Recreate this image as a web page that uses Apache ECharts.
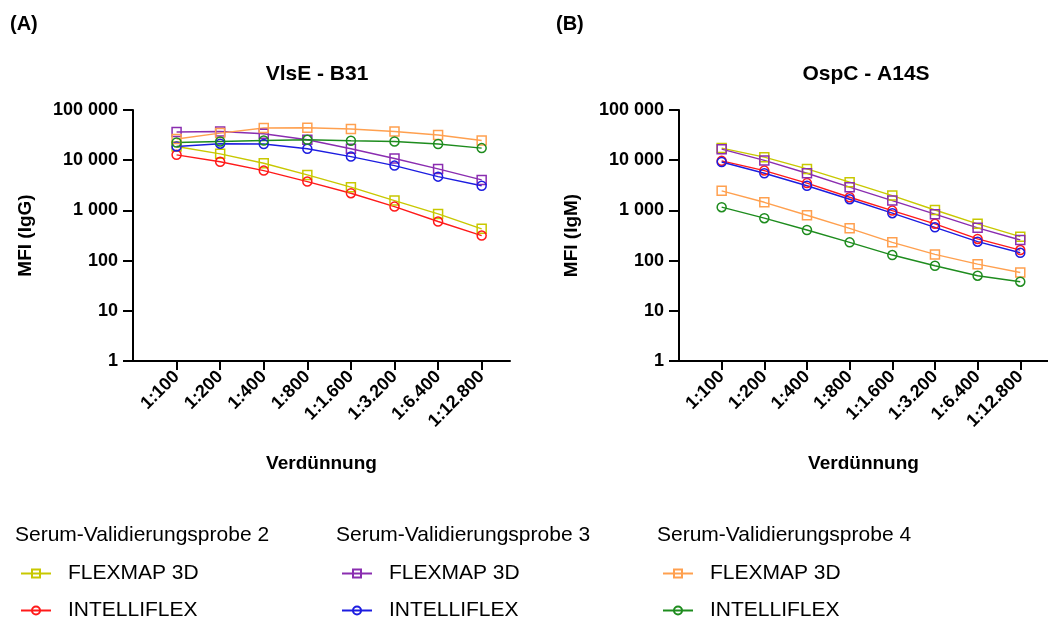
<!DOCTYPE html>
<html>
<head>
<meta charset="utf-8">
<script src="https://cdn.jsdelivr.net/npm/echarts@6/dist/echarts.min.js"></script>
<style>
  html, body { margin: 0; padding: 0; background: #fff; }
  #chart { width: 1048px; height: 620px; }
</style>
</head>
<body>
<div id="chart"></div>
<script>
// Verdünnungsstufen (x-Achse)
const dilutions = ['1:100', '1:200', '1:400', '1:800', '1:1.600', '1:3.200', '1:6.400', '1:12.800']
const yTicks = [1, 10, 100, 1000, 10000, 100000]

// (A) VlsE - B31, MFI (IgG)
const vlseFlex2 = [18800, 13400, 8700, 5100, 2900, 1570, 850, 430]
const vlseIntel2 = [12800, 9300, 6200, 3750, 2200, 1190, 600, 315]
const vlseFlex3 = [36400, 37400, 33600, 25500, 16900, 10800, 6700, 4050]
const vlseIntel3 = [18800, 21300, 21000, 16900, 11800, 7800, 4700, 3100]
const vlseFlex4 = [26400, 34700, 43700, 44300, 41800, 37400, 31700, 24700]
const vlseIntel4 = [22500, 23600, 24700, 25500, 24400, 23600, 21000, 17400]

// (B) OspC - A14S, MFI (IgM)
const ospcFlex2 = [17400, 11500, 6700, 3650, 1970, 1020, 540, 300]
const ospcIntel2 = [9700, 6200, 3500, 1830, 990, 540, 270, 162]
const ospcFlex3 = [16600, 9900, 5500, 2900, 1570, 840, 450, 257]
const ospcIntel3 = [9200, 5500, 3100, 1670, 880, 460, 238, 143]
const ospcFlex4 = [2450, 1450, 800, 440, 231, 133, 85, 58]
const ospcIntel4 = [1160, 700, 407, 231, 129, 79, 50, 38]

const samples = ['Serum-Validierungsprobe 2', 'Serum-Validierungsprobe 3', 'Serum-Validierungsprobe 4']
const devices = ['FLEXMAP 3D', 'INTELLIFLEX']

const font = 'Liberation Sans, Arial, sans-serif'
const idx = dilutions.map((d, i) => i)

// Serien-Definition: Probe, Gerät, Farbe, Symbol, Daten (A), Daten (B)
const lines = [
  { s: 0, d: 0, color: '#c8c800', symbol: 'rect', a: vlseFlex2, b: ospcFlex2 },
  { s: 0, d: 1, color: '#ff1a1a', symbol: 'circle', a: vlseIntel2, b: ospcIntel2 },
  { s: 1, d: 0, color: '#8a2db0', symbol: 'rect', a: vlseFlex3, b: ospcFlex3 },
  { s: 1, d: 1, color: '#1c1ce0', symbol: 'circle', a: vlseIntel3, b: ospcIntel3 },
  { s: 2, d: 0, color: '#ffa04f', symbol: 'rect', a: vlseFlex4, b: ospcFlex4 },
  { s: 2, d: 1, color: '#1e8c1e', symbol: 'circle', a: vlseIntel4, b: ospcIntel4 }
]

function fmtThousands(v) {
  return String(Math.round(v)).replace(/\B(?=(\d{3})+(?!\d))/g, ' ')
}

function makeX(gridIndex) {
  return {
    type: 'value',
    gridIndex,
    min: -1,
    max: 7.65,
    name: 'Verdünnung',
    nameLocation: 'middle',
    nameGap: 93,
    nameTextStyle: { fontFamily: font, fontWeight: 'bold', fontSize: 19, color: '#000' },
    axisLine: { show: true, onZero: false, lineStyle: { color: '#000', width: 2 } },
    axisTick: { show: true, customValues: idx, length: 9, lineStyle: { color: '#000', width: 2 } },
    axisLabel: {
      customValues: idx,
      rotate: 45,
      margin: 13,
      fontFamily: font,
      fontWeight: 'bold',
      fontSize: 18,
      color: '#000',
      formatter: v => dilutions[v]
    },
    splitLine: { show: false }
  }
}

function makeY(gridIndex, name) {
  return {
    type: 'log',
    logBase: 10,
    gridIndex,
    min: 1,
    max: 100000,
    name,
    nameLocation: 'middle',
    nameGap: 98,
    nameTextStyle: { fontFamily: font, fontWeight: 'bold', fontSize: 19, color: '#000' },
    axisLine: { show: true, onZero: false, lineStyle: { color: '#000', width: 2 } },
    axisTick: { show: true, length: 10, lineStyle: { color: '#000', width: 2 } },
    axisLabel: {
      margin: 15,
      fontFamily: font,
      fontWeight: 'bold',
      fontSize: 18,
      color: '#000',
      formatter: v => fmtThousands(v)
    },
    minorTick: { show: false },
    splitLine: { show: false }
  }
}

const seriesName = l => samples[l.s] + ' ' + devices[l.d]

const series = []
lines.forEach(l => {
  ;[['a', 0], ['b', 1]].forEach(([key, gi]) => {
    series.push({
      name: seriesName(l),
      type: 'line',
      xAxisIndex: gi,
      yAxisIndex: gi,
      data: l[key].map((v, i) => [i, v]),
      symbol: l.symbol,
      symbolSize: 9,
      showSymbol: true,
      itemStyle: { color: 'rgba(255,255,255,0)', borderColor: l.color, borderWidth: 1.5 },
      lineStyle: { color: l.color, width: 1.4 },
      emphasis: { disabled: true },
      animation: false
    })
  })
})

// eine Legende je Eintrag, Spalte = Probe, Zeile = Gerät
const legendLeft = [15, 336, 657]
const legendTop = [558, 595]
const legends = lines.map(l => ({
  left: legendLeft[l.s],
  top: legendTop[l.d],
  itemWidth: 30,
  itemHeight: 10,
  selectedMode: false,
  data: [{ name: seriesName(l) }],
  formatter: () => devices[l.d],
  textStyle: { fontFamily: font, fontSize: 21, color: '#000', padding: [0, 0, 0, 12] }
}))

const texts = [
  { x: 10, y: 24, text: '(A)', size: 20, bold: true, align: 'left' },
  { x: 556, y: 24, text: '(B)', size: 20, bold: true, align: 'left' },
  { x: 317, y: 74, text: 'VlsE - B31', size: 21, bold: true, align: 'center' },
  { x: 866, y: 74, text: 'OspC - A14S', size: 21, bold: true, align: 'center' },
  { x: 15, y: 535, text: samples[0], size: 21, bold: false, align: 'left' },
  { x: 336, y: 535, text: samples[1], size: 21, bold: false, align: 'left' },
  { x: 657, y: 535, text: samples[2], size: 21, bold: false, align: 'left' }
]

const chart = echarts.init(document.getElementById('chart'), null, { renderer: 'canvas' })
chart.setOption({
  backgroundColor: '#fff',
  animation: false,
  grid: [
    { left: 133, top: 110, width: 377, height: 251 },
    { left: 679, top: 110, width: 377, height: 251 }
  ],
  xAxis: [makeX(0), makeX(1)],
  yAxis: [makeY(0, 'MFI (IgG)'), makeY(1, 'MFI (IgM)')],
  legend: legends,
  graphic: texts.map(t => ({
    type: 'text',
    x: t.x,
    y: t.y,
    style: {
      text: t.text,
      fontFamily: font,
      fontSize: t.size,
      fontWeight: t.bold ? 'bold' : 'normal',
      fill: '#000',
      align: t.align,
      verticalAlign: 'middle'
    }
  })),
  series
})
</script>
</body>
</html>
